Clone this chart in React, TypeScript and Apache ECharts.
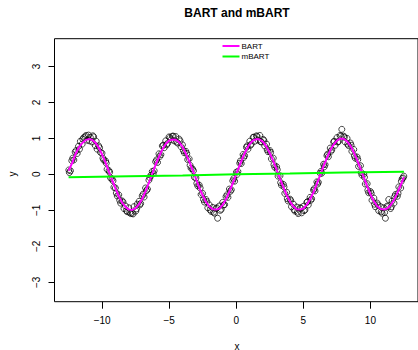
import React, { useEffect, useRef } from "react";
import * as echarts from "echarts";

const xTicks = [-10, -5, 0, 5, 10];
const yTicks = [-3, -2, -1, 0, 1, 2, 3];

const observed: [number, number][] = [
  [-12.48, 0.12], [-12.36, 0.1], [-12.26, 0.38], [-12.11, 0.4], [-12.01, 0.62], [-11.86, 0.58], [-11.76, 0.78], [-11.62, 0.92],
  [-11.49, 0.84], [-11.37, 1.02], [-11.26, 1.05], [-11.12, 0.95], [-11.01, 1.09], [-10.88, 1.03], [-10.74, 0.9], [-10.63, 1.04],
  [-10.51, 0.8], [-10.37, 0.7], [-10.26, 0.79], [-10.12, 0.61], [-10.01, 0.59], [-9.88, 0.4], [-9.74, 0.37], [-9.63, 0.14],
  [-9.49, 0.1], [-9.37, -0.1], [-9.26, -0.13], [-9.12, -0.36], [-9.01, -0.38], [-8.87, -0.6], [-8.76, -0.57], [-8.62, -0.8],
  [-8.51, -0.74], [-8.37, -0.95], [-8.26, -0.88], [-8.12, -1.04], [-8.01, -0.93], [-7.87, -1.09], [-7.76, -1.08], [-7.63, -0.9],
  [-7.49, -1.02], [-7.38, -0.83], [-7.24, -0.75], [-7.13, -0.81], [-7.01, -0.6], [-6.87, -0.63], [-6.76, -0.38], [-6.62, -0.41],
  [-6.51, -0.16], [-6.37, -0.03], [-6.26, 0.08], [-6.12, 0.1], [-6.01, 0.35], [-5.87, 0.33], [-5.76, 0.57], [-5.62, 0.55],
  [-5.51, 0.79], [-5.37, 0.74], [-5.26, 0.93], [-5.12, 0.86], [-5.01, 1.04], [-4.87, 0.96], [-4.76, 1.06], [-4.62, 0.93],
  [-4.51, 1.05], [-4.37, 0.87], [-4.26, 0.98], [-4.12, 0.77], [-4.01, 0.82], [-3.87, 0.6], [-3.76, 0.64], [-3.62, 0.41],
  [-3.51, 0.43], [-3.37, 0.17], [-3.26, 0.15], [-3.12, -0.08], [-3.01, -0.1], [-2.87, -0.32], [-2.76, -0.3], [-2.62, -0.56],
  [-2.51, -0.53], [-2.37, -0.77], [-2.26, -0.7], [-2.12, -0.93], [-2.01, -0.85], [-1.87, -1.03], [-1.76, -0.92], [-1.62, -1.08],
  [-1.51, -0.95], [-1.39, -1.22], [-1.26, -0.88], [-1.12, -0.97], [-1.01, -0.78], [-0.87, -0.84], [-0.76, -0.62], [-0.62, -0.64],
  [-0.51, -0.41], [-0.37, -0.43], [-0.26, -0.18], [-0.12, -0.19], [0.01, 0.06], [0.12, 0.08], [0.26, 0.31], [0.37, 0.3],
  [0.51, 0.55], [0.62, 0.52], [0.76, 0.75], [0.87, 0.7], [1.01, 0.92], [1.12, 0.84], [1.26, 1.03], [1.37, 0.92],
  [1.51, 1.07], [1.62, 0.95], [1.76, 1.08], [1.87, 0.9], [2.01, 0.97], [2.12, 0.79], [2.26, 0.84], [2.37, 0.63],
  [2.51, 0.66], [2.62, 0.43], [2.76, 0.45], [2.87, 0.2], [3.01, 0.21], [3.12, -0.05], [3.26, -0.04], [3.37, -0.3],
  [3.51, -0.28], [3.62, -0.53], [3.76, -0.5], [3.87, -0.74], [4.01, -0.69], [4.12, -0.9], [4.26, -0.83], [4.37, -1.02],
  [4.51, -0.91], [4.62, -1.09], [4.76, -0.93], [4.87, -1.07], [5.01, -0.89], [5.12, -0.99], [5.26, -0.78], [5.37, -0.85],
  [5.51, -0.64], [5.62, -0.68], [5.76, -0.44], [5.87, -0.46], [6.01, -0.21], [6.12, -0.22], [6.26, 0.03], [6.37, 0.03],
  [6.51, 0.28], [6.62, 0.27], [6.76, 0.52], [6.87, 0.49], [7.01, 0.73], [7.12, 0.68], [7.26, 0.9], [7.37, 0.81],
  [7.51, 1.02], [7.62, 0.91], [7.74, 1.08], [7.87, 1.25], [8.01, 1.06], [8.12, 0.9], [8.26, 1.0], [8.37, 0.8],
  [8.51, 0.87], [8.62, 0.64], [8.76, 0.69], [8.87, 0.45], [9.01, 0.48], [9.12, 0.22], [9.26, 0.24], [9.37, -0.02],
  [9.51, 0.0], [9.62, -0.27], [9.76, -0.26], [9.87, -0.51], [10.01, -0.48], [10.12, -0.72], [10.26, -0.66], [10.37, -0.9],
  [10.51, -0.8], [10.62, -1.01], [10.76, -0.9], [10.87, -1.08], [11.01, -0.93], [11.12, -1.22], [11.26, -0.88], [11.37, -0.7],
  [11.51, -0.95], [11.62, -0.74], [11.76, -0.8], [11.87, -0.56], [12.01, -0.61], [12.12, -0.35], [12.26, -0.38], [12.37, -0.12],
  [12.49, -0.05],
  [-12.44, 0.05], [-12.19, 0.45], [-11.94, 0.66], [-11.69, 0.7], [-11.44, 0.98], [-11.19, 1.08], [-10.94, 0.93], [-10.69, 1.07],
  [-10.44, 0.92], [-10.19, 0.74], [-9.94, 0.45], [-9.69, 0.31], [-9.44, 0.06], [-9.19, -0.18], [-8.94, -0.52], [-8.69, -0.72],
  [-8.44, -0.77], [-8.19, -1.01], [-7.94, -1.06], [-7.69, -1.1], [-7.44, -0.96], [-7.19, -0.85], [-6.94, -0.55], [-6.69, -0.45],
  [-6.44, -0.09], [-6.19, 0.02], [-5.94, 0.4], [-5.69, 0.5], [-5.44, 0.81], [-5.19, 0.82], [-4.94, 1.02], [-4.69, 1.06],
  [-4.44, 0.9], [-4.19, 0.93], [-3.94, 0.66], [-3.69, 0.58], [-3.44, 0.25], [-3.19, 0.1], [-2.94, -0.25], [-2.69, -0.38],
  [-2.44, -0.7], [-2.19, -0.76], [-1.94, -0.99], [-1.69, -1.05], [-1.44, -0.93], [-1.19, -1.0], [-0.94, -0.85], [-0.69, -0.57],
  [-0.44, -0.47], [-0.19, -0.12], [0.06, 0.0], [0.31, 0.37], [0.56, 0.47], [0.81, 0.79], [1.06, 0.81], [1.31, 1.03],
  [1.56, 1.05], [1.81, 0.91], [2.06, 0.94], [2.31, 0.68], [2.56, 0.61], [2.81, 0.27], [3.06, 0.13], [3.31, -0.23],
  [3.56, -0.35], [3.81, -0.68], [4.06, -0.73], [4.31, -0.98], [4.56, -1.05], [4.81, -0.94], [5.06, -1.01], [5.31, -0.76],
  [5.56, -0.72], [5.81, -0.4], [6.06, -0.27], [6.31, 0.08], [6.56, 0.21], [6.81, 0.56], [7.06, 0.64], [7.31, 0.92],
  [7.56, 0.9], [7.81, 1.06], [8.06, 1.03], [8.31, 0.84], [8.56, 0.81], [8.81, 0.51], [9.06, 0.41], [9.31, 0.05],
  [9.56, -0.08], [9.81, -0.44], [10.06, -0.53], [10.31, -0.83], [10.56, -0.85], [10.81, -1.04], [11.06, -1.06], [11.31, -0.9],
  [11.56, -0.9], [11.81, -0.62], [12.06, -0.53], [12.31, -0.19], [12.44, -0.1],
];

const bartFit: [number, number][] = [
  [-12.5, 0.1], [-12.25, 0.3], [-12.0, 0.55], [-11.75, 0.74], [-11.5, 0.86], [-11.25, 0.95], [-11.0, 0.98], [-10.75, 0.96],
  [-10.5, 0.88], [-10.25, 0.74], [-10.0, 0.55], [-9.75, 0.33], [-9.5, 0.08], [-9.25, -0.16], [-9.0, -0.4], [-8.75, -0.62],
  [-8.5, -0.79], [-8.25, -0.91], [-8.0, -0.98], [-7.75, -0.99], [-7.5, -0.94], [-7.25, -0.83], [-7.0, -0.67], [-6.75, -0.46],
  [-6.5, -0.22], [-6.25, 0.03], [-6.0, 0.28], [-5.75, 0.5], [-5.5, 0.7], [-5.25, 0.85], [-5.0, 0.94], [-4.75, 0.97],
  [-4.5, 0.96], [-4.25, 0.89], [-4.0, 0.76], [-3.75, 0.57], [-3.5, 0.36], [-3.25, 0.12], [-3.0, -0.13], [-2.75, -0.38],
  [-2.5, -0.59], [-2.25, -0.77], [-2.0, -0.9], [-1.75, -0.97], [-1.5, -0.98], [-1.25, -0.95], [-1.0, -0.84], [-0.75, -0.68],
  [-0.5, -0.47], [-0.25, -0.24], [0.0, 0.01], [0.25, 0.25], [0.5, 0.48], [0.75, 0.68], [1.0, 0.84], [1.25, 0.94],
  [1.5, 0.98], [1.75, 0.97], [2.0, 0.9], [2.25, 0.77], [2.5, 0.59], [2.75, 0.38], [3.0, 0.14], [3.25, -0.11],
  [3.5, -0.35], [3.75, -0.57], [4.0, -0.75], [4.25, -0.89], [4.5, -0.97], [4.75, -0.98], [5.0, -0.95], [5.25, -0.85],
  [5.5, -0.7], [5.75, -0.5], [6.0, -0.27], [6.25, -0.03], [6.5, 0.22], [6.75, 0.45], [7.0, 0.66], [7.25, 0.82],
  [7.5, 0.94], [7.75, 0.99], [8.0, 0.99], [8.25, 0.92], [8.5, 0.8], [8.75, 0.62], [9.0, 0.41], [9.25, 0.17],
  [9.5, -0.08], [9.75, -0.32], [10.0, -0.55], [10.25, -0.74], [10.5, -0.88], [10.75, -0.96], [11.0, -0.98], [11.25, -0.95],
  [11.5, -0.86], [11.75, -0.72], [12.0, -0.53], [12.25, -0.31], [12.5, -0.08],
];

const mbartFit: [number, number][] = [
  [-12.5, -0.08], [-8.0, -0.05], [-4.0, -0.03], [0.0, 0.0], [4.0, 0.02], [8.0, 0.05], [12.5, 0.07],
];

const titleText = "BART and mBART";
const legendNames = ["BART", "mBART"];
const legendColors = ["#FF00FF", "#00FF00"];

export default function App() {
  const ref = useRef<HTMLDivElement>(null);
  useEffect(() => {
    const chart = echarts.init(ref.current!, null, { renderer: "svg" });
    const fmt = (v: number) => String(v).replace("-", "\u2212");
    const font = "'Liberation Sans', Arial, sans-serif";
    chart.setOption({
      animation: false,
      backgroundColor: "#ffffff",
      textStyle: { fontFamily: font },
      grid: {
        left: 54.5, top: 38.7, width: 365, height: 263,
        show: true, borderColor: "#000", borderWidth: 1, backgroundColor: "transparent",
      },
      xAxis: {
        type: "value", min: -13.55, max: 13.55, position: "bottom",
        axisLine: { show: false, onZero: false }, splitLine: { show: false },
        axisTick: { show: true, inside: false, length: 7, customValues: xTicks, lineStyle: { color: "#000", width: 1 } },
        axisLabel: { customValues: xTicks, formatter: fmt, margin: 14, fontSize: 10, color: "#000", fontFamily: font },
      },
      yAxis: {
        type: "value", min: -3.54, max: 3.77, position: "left",
        axisLine: { show: false, onZero: false }, splitLine: { show: false },
        axisTick: { show: true, inside: false, length: 6, customValues: yTicks, lineStyle: { color: "#000", width: 1 } },
        axisLabel: { customValues: yTicks, formatter: fmt, rotate: 90, margin: 13, fontSize: 10, color: "#000", fontFamily: font },
      },
      series: [
        {
          type: "scatter", name: "data", data: observed, symbol: "circle", symbolSize: 6,
          itemStyle: { color: "transparent", borderColor: "#000", borderWidth: 0.9 }, z: 2,
        },
        {
          type: "line", name: legendNames[0], data: bartFit, showSymbol: false, symbol: "none",
          lineStyle: { color: legendColors[0], width: 2 }, z: 3,
        },
        {
          type: "line", name: legendNames[1], data: mbartFit, showSymbol: false, symbol: "none",
          lineStyle: { color: legendColors[1], width: 2 }, z: 4,
        },
      ],
      graphic: [
        { type: "text", x: 237, y: 13, style: { text: titleText, fill: "#000", font: `bold 12px ${font}`, textAlign: "center", textVerticalAlign: "middle" } },
        { type: "text", x: 237, y: 346, style: { text: "x", font: `10px ${font}`, fill: "#000", textAlign: "center", textVerticalAlign: "middle" } },
        { type: "text", x: 12, y: 174, rotation: Math.PI / 2, style: { text: "y", font: `10px ${font}`, fill: "#000", textAlign: "center", textVerticalAlign: "middle" } },
        { type: "line", shape: { x1: 222.5, y1: 46, x2: 239.5, y2: 46 }, style: { stroke: legendColors[0], lineWidth: 2 } },
        { type: "line", shape: { x1: 222.5, y1: 56.5, x2: 239.5, y2: 56.5 }, style: { stroke: legendColors[1], lineWidth: 2 } },
        { type: "text", x: 241.5, y: 46, style: { text: legendNames[0], font: `8px ${font}`, fill: "#000", textAlign: "left", textVerticalAlign: "middle" } },
        { type: "text", x: 241.5, y: 56.5, style: { text: legendNames[1], font: `8px ${font}`, fill: "#000", textAlign: "left", textVerticalAlign: "middle" } },
      ],
    });
    return () => chart.dispose();
  }, []);
  return <div ref={ref} style={{ position: "fixed", left: 0, top: 0, width: 418, height: 350 }} />;
}
